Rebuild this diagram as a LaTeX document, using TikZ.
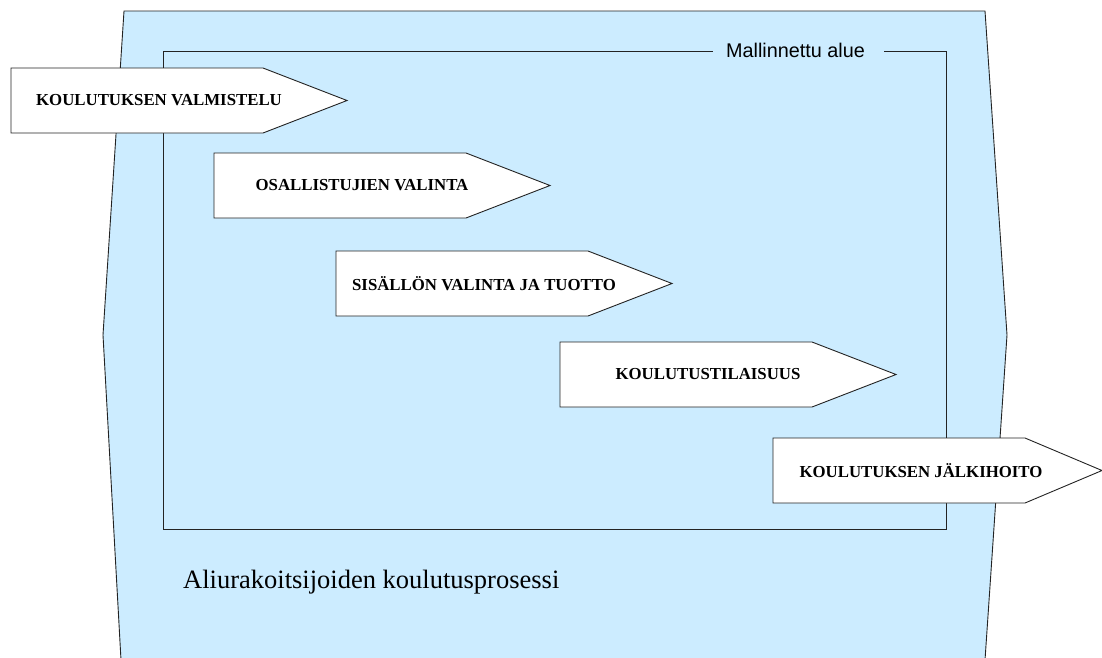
\documentclass[tikz,border=0pt]{standalone}
\usepackage{fontspec}
\setmainfont{Liberation Serif}
\newfontfamily\labelsans{Liberation Sans}
\definecolor{areablue}{RGB}{204,236,255}
\definecolor{edgegray}{RGB}{35,35,35}

% one process phase: left x, top y, node name, label, tip length
\newcommand\phasearrow[5]{%
  \draw[phase] (#1,#2) -- ++(252,0) -- ++(#5,32.5) -- ++(-#5,32.5) -- ++(-252,0) -- cycle;
  \node[phaselabel] (#3) at (#1+148,#2+32.5) {#4};
}

\begin{document}
\begin{tikzpicture}[x=1pt,y=-1pt,
  phase/.style={draw=edgegray,fill=white,line width=0.9pt,line join=miter},
  phaselabel/.style={font=\fontsize{16.8}{18}\selectfont\bfseries,inner sep=0pt},
  frame/.style={draw=edgegray,line width=0.9pt},
  regionlabel/.style={font=\labelsans\fontsize{19.8}{21}\selectfont,inner sep=0pt,anchor=base},
  titlelabel/.style={font=\fontsize{26.5}{28}\selectfont,inner sep=0pt,anchor=base west}]
  \useasboundingbox (0,0) rectangle (1102,657);

  % process background
  \fill[areablue] (124,11) -- (985,11) -- (1007,335) -- (985,660) -- (121,660) -- (103,335) -- cycle;
  \draw[frame] (121,660) -- (103,335) -- (124,11) -- (985,11) -- (1007,335) -- (985,660);

  % modelled region with its label in the top edge
  \coordinate (tl) at (163,51);
  \coordinate (br) at (946,529);
  \node[regionlabel] (region) at (795.5,57) {Mallinnettu alue};
  \draw[frame] ([xshift=-13pt]region.west |- tl) -- (tl) -- (tl |- br) -- (br) -- (br |- tl) -- ([xshift=19pt]region.east |- tl);

  % phases
  \phasearrow{11}{68}{p1}{KOULUTUKSEN VALMISTELU}{84}
  \phasearrow{214}{153}{p2}{OSALLISTUJIEN VALINTA}{84}
  \phasearrow{336}{251}{p3}{SISÄLLÖN VALINTA JA TUOTTO}{84}
  \phasearrow{560}{342}{p4}{KOULUTUSTILAISUUS}{84}
  \phasearrow{773}{438}{p5}{KOULUTUKSEN JÄLKIHOITO}{77}

  \node[titlelabel] (title) at (183,588) {Aliurakoitsijoiden koulutusprosessi};
\end{tikzpicture}
\end{document}
